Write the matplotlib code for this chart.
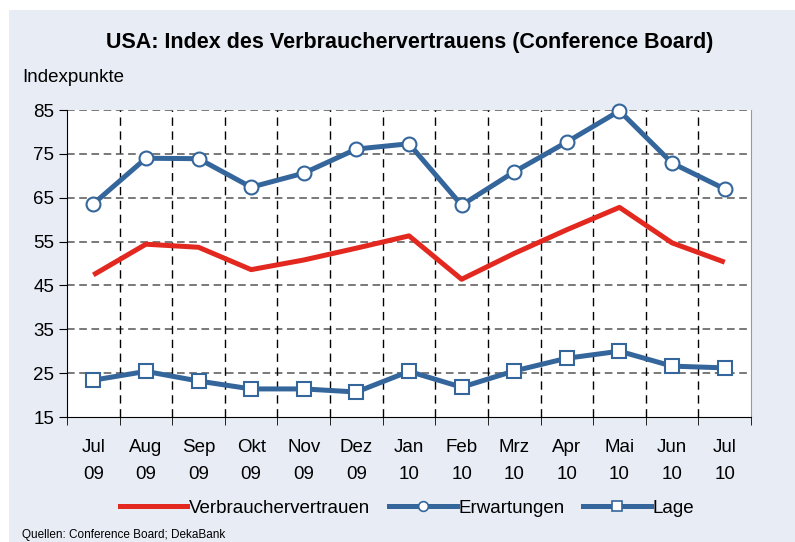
import matplotlib.pyplot as plt
import numpy as np
from matplotlib.patches import Rectangle
from matplotlib.lines import Line2D

plt.rcParams["font.family"] = ["Liberation Sans", "DejaVu Sans"]

months = ["Jul", "Aug", "Sep", "Okt", "Nov", "Dez", "Jan", "Feb", "Mrz", "Apr", "Mai", "Jun", "Jul"]
years = ["09", "09", "09", "09", "09", "09", "10", "10", "10", "10", "10", "10", "10"]
vertrauen = [47.4, 54.4, 53.7, 48.6, 50.8, 53.5, 56.3, 46.4, 52.3, 57.7, 62.8, 54.7, 50.3]
erwartungen = [63.6, 74.0, 73.9, 67.4, 70.6, 76.1, 77.3, 63.3, 70.9, 77.7, 84.8, 72.9, 67.0]
lage = [23.4, 25.4, 23.2, 21.4, 21.4, 20.7, 25.4, 21.8, 25.5, 28.4, 30.0, 26.6, 26.2]

RED = "#e3281f"
BLUE = "#34669c"
BG = "#e8ecf5"

fig = plt.figure(figsize=(7.95, 5.42), dpi=100)
fig.patch.set_facecolor("white")
fig.patches.append(Rectangle((9 / 795, 0), 1, 1 - 10 / 542, transform=fig.transFigure,
                             facecolor=BG, edgecolor="none", zorder=-10))

ax = fig.add_axes([67 / 795, 1 - 417 / 542, (751 - 67) / 795, (417 - 110) / 542])
ax.set_facecolor("white")
x = np.arange(len(months))

ax.set_xlim(-0.5, len(months) - 0.5)
ax.set_ylim(15, 85)
ax.set_yticks(np.arange(15, 86, 10))
ax.set_xticks(x)
ax.set_xticklabels([f"{m}\n{y}" for m, y in zip(months, years)], fontsize=13.5, linespacing=1.75)
ax.set_xticks(np.arange(-0.5, len(months)), minor=True)
ax.tick_params(axis="x", which="major", length=0, pad=16)
ax.tick_params(axis="x", which="minor", length=6, direction="out", color="black")
ax.tick_params(axis="y", length=6, direction="out", labelsize=13.5, pad=3)

for yv in np.arange(25, 86, 10):
    ax.axhline(yv, color="#555555", lw=1.1, ls=(0, (5, 3)), zorder=1)
for xb in np.arange(0.5, len(months) - 1, 1):
    ax.axvline(xb, color="black", lw=1.0, ls=(0, (6, 4)), zorder=1)

ax.spines["top"].set_visible(False)
ax.spines["right"].set_color("#999999")
ax.spines["left"].set_color("black")
ax.spines["bottom"].set_color("black")

ax.plot(x, vertrauen, color=RED, lw=3.6, solid_capstyle="butt", zorder=3)
ax.plot(x, erwartungen, color=BLUE, lw=3.6, marker="o", ms=10, mfc="white", mec=BLUE, mew=1.5,
        zorder=4, clip_on=False)
ax.plot(x, lage, color=BLUE, lw=3.6, marker="s", ms=10, mfc="white", mec=BLUE, mew=1.5,
        zorder=4, clip_on=False)

fig.text(410 / 795, 1 - 42 / 542, "USA: Index des Verbrauchervertrauens (Conference Board)",
         ha="center", va="center", fontsize=15.5, fontweight="bold")
fig.text(22 / 795, 1 - 78 / 542, "Indexpunkte", ha="left", va="center", fontsize=13.5)

handles = [
    Line2D([], [], color=RED, lw=3.6),
    Line2D([], [], color=BLUE, lw=3.6, marker="o", ms=7, mfc="white", mec=BLUE, mew=1.2),
    Line2D([], [], color=BLUE, lw=3.6, marker="s", ms=7, mfc="white", mec=BLUE, mew=1.2),
]
fig.legend(handles, ["Verbrauchervertrauen", "Erwartungen", "Lage"], loc="center",
           bbox_to_anchor=(407 / 795, 1 - 508 / 542), ncol=3, frameon=False, fontsize=13.5,
           handlelength=3.6, handletextpad=0.1, columnspacing=1.0)

fig.text(22 / 795, 1 / 542, "Quellen: Conference Board; DekaBank", ha="left", va="bottom",
         fontsize=8.5)

fig.savefig("out.png", dpi=100, facecolor=fig.get_facecolor())
